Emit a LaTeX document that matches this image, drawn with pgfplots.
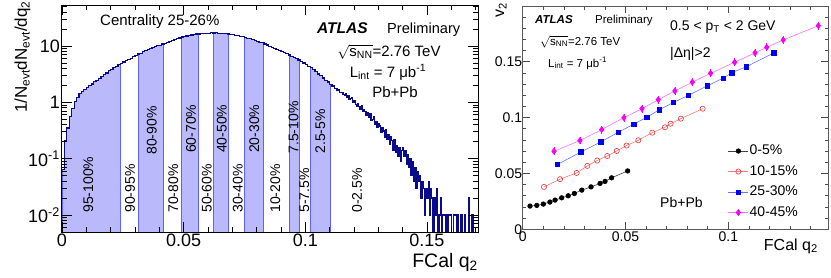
\documentclass[border=0pt]{standalone}
\usepackage{pgfplots}
\pgfplotsset{compat=1.18}
\usepackage{pgfplotstable}
\usepackage{fontspec}
\setmainfont{Liberation Sans}
\definecolor{navyc}{RGB}{10,10,140}
\definecolor{bandfill}{RGB}{185,185,252}
\definecolor{bandline}{RGB}{95,95,250}
\definecolor{redline}{RGB}{250,120,120}
\definecolor{redmark}{RGB}{235,50,50}
\definecolor{blueline}{RGB}{110,110,255}
\definecolor{bluemark}{RGB}{0,0,245}
\definecolor{magline}{RGB}{255,110,255}
\definecolor{magmark}{RGB}{245,0,245}
\newcommand{\fs}[1]{\fontsize{#1}{#1}\selectfont}

\pgfplotstableread{
q v
0.000 0.065
0.001 0.21
0.002 0.35
0.003 0.57
0.004 0.78
0.005 1.04
0.006 1.22
0.007 1.45
0.008 1.55
0.009 1.72
0.010 1.83
0.011 2.02
0.012 2.12
0.013 2.33
0.014 2.44
0.015 2.66
0.016 2.84
0.017 3.12
0.018 3.32
0.019 3.66
0.020 3.84
0.021 4.13
0.022 4.32
0.023 4.66
0.024 4.86
0.02415 4.86
0.025 5.22
0.026 5.45
0.027 5.85
0.028 6.10
0.029 6.50
0.030 6.75
0.031 7.20
0.0314 7.20
0.032 7.45
0.033 7.90
0.034 8.25
0.035 8.72
0.036 9.02
0.037 9.45
0.038 9.70
0.039 10.1
0.040 10.35
0.041 10.85
0.0419 10.85
0.042 11.15
0.043 11.65
0.044 11.95
0.045 12.55
0.046 12.9
0.047 13.5
0.048 13.85
0.049 14.45
0.04925 14.45
0.050 14.6
0.051 15.05
0.052 15.2
0.053 15.65
0.054 15.8
0.055 16.3
0.056 16.4
0.0561 16.4
0.057 16.7
0.058 16.6
0.059 16.95
0.060 16.9
0.061 17.2
0.062 17.1
0.0621 17.1
0.063 17.25
0.064 16.9
0.065 16.95
0.066 16.7
0.067 16.75
0.068 16.4
0.0686 16.4
0.069 16.25
0.070 15.85
0.071 15.6
0.072 15.15
0.073 14.95
0.074 14.55
0.075 14.25
0.0751 14.25
0.076 13.75
0.077 13.4
0.078 12.95
0.079 12.45
0.080 12.2
0.081 11.65
0.082 11.4
0.0828 11.4
0.083 10.85
0.084 10.45
0.085 9.95
0.086 9.55
0.087 9.10
0.088 8.75
0.089 8.30
0.090 7.98
0.091 7.60
0.092 7.30
0.093 6.95
0.0934 6.95
0.094 6.60
0.095 6.30
0.096 5.95
0.097 5.65
0.0975 5.65
0.098 5.30
0.099 5.00
0.100 4.68
0.101 4.40
0.102 4.12
0.1023 4.12
0.103 3.78
0.104 3.50
0.105 3.18
0.106 2.96
0.107 2.70
0.108 2.46
0.109 2.30
0.110 2.08
0.1103 2.08
0.111 1.96
0.112 1.77
0.113 1.66
0.114 1.50
0.1150 1.48
0.1155 1.36
0.1160 1.33
0.1165 1.42
0.1170 1.22
0.1175 1.30
0.1180 1.12
0.1185 1.18
0.1190 1.20
0.1195 0.98
0.1200 1.06
0.1205 0.93
0.1210 0.86
0.1215 0.97
0.1220 0.84
0.1225 0.76
0.1230 0.86
0.1235 0.68
0.1240 0.74
0.1245 0.70
0.1250 0.58
0.1255 0.66
0.1260 0.55
0.1265 0.62
0.1270 0.48
0.1275 0.50
0.1280 0.56
0.1285 0.40
0.1290 0.46
0.1295 0.36
0.1300 0.42
0.1305 0.38
0.1310 0.29
0.1315 0.36
0.1320 0.31
0.1325 0.24
0.1330 0.33
0.1335 0.22
0.1340 0.27
0.1345 0.18
0.1350 0.25
0.1355 0.21
0.1360 0.14
0.1365 0.22
0.1370 0.13
0.1375 0.17
0.1380 0.11
0.1385 0.16
0.1390 0.09
0.1395 0.14
0.1400 0.16
0.1405 0.11
0.1410 0.14
0.1415 0.08
0.1420 0.12
0.1425 0.07
0.1430 0.10
0.1435 0.05
0.1440 0.09
0.1445 0.04
0.1450 0.07
0.1455 0.03
0.1460 0.06
0.1465 0.04
0.1470 0.05
0.1475 0.02
0.1480 0.04
0.1485 0.03
0.1490 0.01
0.1495 0.03
0.1500 0.02
0.1505 0.04
0.1510 0.01
0.1515 0.03
0.1520 0.02
0.1525 0.001
0.1530 0.02
0.1535 0.01
0.1540 0.03
0.1545 0.001
0.1550 0.01
0.1555 0.02
0.1560 0.001
0.1565 0.01
0.1570 0.01
0.1575 0.001
0.1580 0.01
0.1585 0.001
0.1590 0.01
0.1595 0.01
0.1600 0.001
0.1605 0.001
0.1610 0.01
0.1615 0.01
0.1620 0.001
0.1625 0.01
0.1630 0.001
0.1635 0.001
0.1640 0.01
0.1645 0.001
0.1650 0.001
0.1655 0.01
0.1660 0.001
0.1665 0.001
0.1670 0.02
0.1675 0.001
0.1680 0.001
0.1685 0.01
0.1690 0.001
0.1700 0.001
0.1710 0.001
}\histdata

\begin{document}
\begin{tikzpicture}
\path[use as bounding box] (0,0) rectangle (831pt,277pt);
% ---------------- left panel
\begin{axis}[
  at={(62pt,45pt)}, anchor=south west, scale only axis,
  width=416pt, height=227pt,
  xmin=0, xmax=0.171, ymode=log, ymin=0.005, ymax=53.5,
  log origin y=infty,
  axis on top, tick align=inside,
  xtick={0,0.05,0.1,0.15}, xticklabels={0,0.05,0.1,0.15},
  minor xtick={0.01,0.02,0.03,0.04,0.06,0.07,0.08,0.09,0.11,0.12,0.13,0.14,0.16,0.17},
  ytick={0.01,0.1,1,10},
  yticklabels={10\textsuperscript{-2},10\textsuperscript{-1},1,10},
  minor ytick={0.005,0.006,0.007,0.008,0.009,0.02,0.03,0.04,0.05,0.06,0.07,0.08,0.09,0.2,0.3,0.4,0.5,0.6,0.7,0.8,0.9,2,3,4,5,6,7,8,9,20,30,40,50},
  major tick length=10pt, minor tick length=5pt,
  every tick/.style={black, line width=0.8pt},
  axis line style={black, line width=1pt},
  xticklabel style={font=\fs{18}, inner sep=1pt, yshift=-1pt},
  yticklabel style={font=\fs{18}, inner sep=1pt, xshift=-1pt},
  /pgf/number format/assume math mode=true,
  band/.style={const plot, fill=bandfill, draw=bandline, line width=0.9pt},
]
\addplot[band, restrict x to domain=-0.001:0.02416] table[x=q, y=v] {\histdata} \closedcycle;
\addplot[band, restrict x to domain=0.03139:0.04191] table[x=q, y=v] {\histdata} \closedcycle;
\addplot[band, restrict x to domain=0.04924:0.05611] table[x=q, y=v] {\histdata} \closedcycle;
\addplot[band, restrict x to domain=0.06209:0.06861] table[x=q, y=v] {\histdata} \closedcycle;
\addplot[band, restrict x to domain=0.07509:0.08281] table[x=q, y=v] {\histdata} \closedcycle;
\addplot[band, restrict x to domain=0.09339:0.09751] table[x=q, y=v] {\histdata} \closedcycle;
\addplot[band, restrict x to domain=0.10229:0.11031] table[x=q, y=v] {\histdata} \closedcycle;
\addplot[navyc, line width=1.2pt, const plot] table[x=q, y=v] {\histdata};
\begin{scope}[every node/.style={rotate=90, anchor=west, inner sep=0pt, font=\fs{14}}]
\node at (axis cs:0.0108,0.0109) {95-100\%};
\node at (axis cs:0.0280,0.0109) {90-95\%};
\node at (axis cs:0.0369,0.117) {80-90\%};
\node at (axis cs:0.0458,0.0109) {70-80\%};
\node at (axis cs:0.0530,0.126) {60-70\%};
\node at (axis cs:0.0595,0.0109) {50-60\%};
\node at (axis cs:0.0657,0.126) {40-50\%};
\node at (axis cs:0.0723,0.0109) {30-40\%};
\node at (axis cs:0.0790,0.126) {20-30\%};
\node at (axis cs:0.0877,0.0109) {10-20\%};
\node at (axis cs:0.0952,0.122) {7.5-10\%};
\node at (axis cs:0.0996,0.0109) {5-7.5\%};
\node at (axis cs:0.1062,0.122) {2.5-5\%};
\node at (axis cs:0.1213,0.0109) {0-2.5\%};
\end{scope}
\end{axis}
% ---------------- right panel
\begin{axis}[
  at={(522.8pt,47.7pt)}, anchor=south west, scale only axis,
  width=305.2pt, height=223.3pt,
  xmin=0, xmax=0.1485, ymin=0, ymax=0.2,
  axis on top, tick align=inside,
  xtick={0,0.05,0.1}, xticklabels={0,0.05,0.1},
  minor xtick={0.01,0.02,0.03,0.04,0.06,0.07,0.08,0.09,0.11,0.12,0.13,0.14},
  ytick={0,0.05,0.1,0.15}, yticklabels={0,0.05,0.1,0.15},
  minor ytick={0.01,0.02,0.03,0.04,0.06,0.07,0.08,0.09,0.11,0.12,0.13,0.14,0.16,0.17,0.18,0.19},
  major tick length=7pt, minor tick length=3.5pt,
  every tick/.style={black!70, line width=0.7pt},
  axis line style={black!65, line width=0.9pt},
  xticklabel style={font=\fs{14}, inner sep=1pt, yshift=-1.5pt},
  yticklabel style={font=\fs{14}, inner sep=0.5pt},
  /pgf/number format/assume math mode=true,
  legend style={at={(0.672,0.385)}, anchor=north west, draw=none, fill=none,
     font=\fs{14}, row sep=5.5pt, inner sep=0pt,
     nodes={inner sep=1pt, text height=10pt, text depth=3pt}},
  legend cell align=left,
  legend image code/.code={\draw[mark repeat=2,mark phase=2] plot coordinates {(0pt,0pt) (10pt,0pt) (20pt,0pt)};},
]
\addplot[black!75, line width=0.6pt, mark=*, mark size=2.3pt, mark options={fill=black, draw=black, solid}] coordinates {
(0.0035,0.0208) (0.0068,0.0214) (0.0100,0.0226) (0.0132,0.0244) (0.0157,0.0262) (0.0189,0.0282) (0.0221,0.0300) (0.0251,0.0321) (0.0287,0.0351) (0.0332,0.0380) (0.0376,0.0411) (0.0400,0.0429) (0.0432,0.0461) (0.0510,0.0523)};
\addlegendentry{0-5\%}
\addplot[redline, line width=0.6pt, mark=o, mark size=2.6pt, mark options={draw=redmark, line width=0.6pt}] coordinates {
(0.0103,0.0380) (0.0181,0.0449) (0.0262,0.0505) (0.0314,0.0568) (0.0362,0.0616) (0.0411,0.0657) (0.0457,0.0702) (0.0505,0.0750) (0.0562,0.0797) (0.0630,0.0866) (0.0692,0.0914) (0.0719,0.0946) (0.0769,0.0991) (0.0875,0.1080)};
\addlegendentry{10-15\%}
\addplot[blueline, line width=0.6pt, mark=square*, mark size=2.2pt, mark options={fill=bluemark, draw=bluemark}] coordinates {
(0.0168,0.0580) (0.0283,0.0693) (0.0379,0.0782) (0.0466,0.0871) (0.0541,0.0943) (0.0603,0.1003) (0.0665,0.1071) (0.0732,0.1135) (0.0805,0.1199) (0.0899,0.1286) (0.0975,0.1354) (0.1016,0.1402) (0.1086,0.1455) (0.1222,0.1580)};
\addlegendentry{25-30\%}
\addplot[magline, line width=0.6pt, mark=diamond*, mark size=3pt, mark options={fill=magmark, draw=magmark},
  error bars/.cd, y dir=both, y explicit, error bar style={magmark, line width=0.7pt}, error mark=none] coordinates {
(0.0152,0.0699) +- (0,0.0035) (0.0278,0.0795) +- (0,0.0035) (0.0384,0.0893) +- (0,0.0035) (0.0492,0.1000) +- (0,0.0035) (0.0580,0.1080) +- (0,0.0035) (0.0659,0.1161) +- (0,0.0035) (0.0740,0.1239) +- (0,0.0035) (0.0825,0.1318) +- (0,0.0035) (0.0914,0.1398) +- (0,0.0035) (0.1031,0.1496) +- (0,0.0035) (0.1130,0.1580) +- (0,0.0035) (0.1187,0.1630) +- (0,0.0035) (0.1267,0.1696) +- (0,0.0035) (0.1438,0.1824) +- (0,0.0035)};
\addlegendentry{40-45\%}
\end{axis}
% ---------------- texts, left panel
\node[rotate=90, anchor=base east, font=\fs{17}, inner sep=0pt] at (27pt,276pt) {1/N\textsubscript{evt}dN\textsubscript{evt}/dq\textsubscript{2}};
\node[anchor=base east, font=\fs{19.5}, inner sep=0pt] at (478pt,10pt) {FCal q\textsubscript{2}};
\node[anchor=base west, font=\fs{15}, inner sep=0pt] at (100pt,252pt) {Centrality 25-26\%};
\node[anchor=base west, font=\fs{15.5}\bfseries\itshape, inner sep=0pt] at (317pt,244pt) {ATLAS};
\node[anchor=base west, font=\fs{14.6}, inner sep=0pt] at (387pt,244pt) {Preliminary};
\node[anchor=base, font=\fs{15}, inner sep=0pt] at (389pt,221pt) {$\sqrt{\hbox{s\textsubscript{NN}}}$=2.76 TeV};
\node[anchor=base, font=\fs{15}, inner sep=0pt] at (388pt,200pt) {L\textsubscript{int} = 7 μb\textsuperscript{-1}};
\node[anchor=base, font=\fs{15}, inner sep=0pt] at (395pt,180pt) {Pb+Pb};
% ---------------- texts, right panel
\node[rotate=90, anchor=base east, font=\fs{16}, inner sep=0pt] at (504pt,274pt) {v\textsubscript{2}};
\node[anchor=base east, font=\fs{16}, inner sep=0pt] at (818pt,27pt) {FCal q\textsubscript{2}};
\node[anchor=base west, font=\fs{11.5}\bfseries\itshape, inner sep=0pt] at (535pt,254pt) {ATLAS};
\node[anchor=base west, font=\fs{11.5}, inner sep=0pt] at (595pt,254pt) {Preliminary};
\node[anchor=base west, font=\fs{11.5}, inner sep=0pt] at (540pt,232pt) {$\sqrt{\hbox{s\textsubscript{NN}}}$=2.76 TeV};
\node[anchor=base west, font=\fs{11.5}, inner sep=0pt] at (548pt,210pt) {L\textsubscript{int} = 7 μb\textsuperscript{-1}};
\node[anchor=base west, font=\fs{14}, inner sep=0pt] at (670pt,247pt) {0.5 < p\textsubscript{T} < 2 GeV};
\node[anchor=base west, font=\fs{14}, inner sep=0pt] at (670pt,220pt) {|Δη|>2};
\node[anchor=base west, font=\fs{14}, inner sep=0pt] at (660pt,70pt) {Pb+Pb};
\end{tikzpicture}
\end{document}
